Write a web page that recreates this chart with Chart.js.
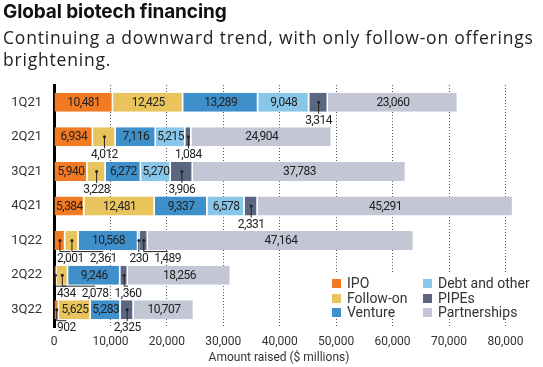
<!DOCTYPE html>
<html lang="en">
<head>
    <meta charset="UTF-8">
    <title>Global biotech financing</title>
    <script src="https://cdn.jsdelivr.net/npm/chart.js"></script>
    <style>
        body {
            margin: 0;
            background-color: #fff;
            font-family: Roboto, Arial, sans-serif;
        }
        #wrap {
            position: relative;
            width: 543px;
            height: 367px;
            overflow: hidden;
        }
        #title {
            position: absolute;
            left: 3px;
            top: 0px;
            font-family: Inter, Roboto, sans-serif;
            font-weight: 700;
            font-size: 19px;
            letter-spacing: -0.1px;
            color: #111;
        }
        #subtitle {
            position: absolute;
            left: 3px;
            top: 26px;
            font-family: "Open Sans", sans-serif;
            font-size: 17.5px;
            letter-spacing: 0.8px;
            line-height: 22px;
            color: #222;
            white-space: nowrap;
        }
        #chart {
            position: absolute;
            left: 0;
            top: 0;
        }
        #xtitle {
            position: absolute;
            left: 0;
            width: 558px;
            top: 350px;
            text-align: center;
            font-size: 12px;
            color: #333;
        }
        #legend {
            position: absolute;
            left: 328px;
            top: 274px;
            width: 210px;
            height: 45px;
            background: #fff;
            display: grid;
            grid-template-columns: 91px 110px;
            grid-auto-flow: column;
            grid-template-rows: repeat(3, 14.5px);
            padding-left: 4px;
            padding-top: 2px;
            box-sizing: border-box;
        }
        .item {
            font-size: 14px;
            line-height: 14.5px;
            color: #333;
            white-space: nowrap;
        }
        .item span {
            display: inline-block;
            width: 9px;
            height: 9px;
            margin-right: 6px;
        }
    </style>
</head>
<body>
<div id="wrap">
    <canvas id="chart" width="543" height="367"></canvas>
    <div id="title">Global biotech financing</div>
    <div id="subtitle">Continuing a downward trend, with only follow-on offerings<br>brightening.</div>
    <div id="legend"></div>
    <div id="xtitle">Amount raised ($ millions)</div>
</div>

<script>
    // quarters and amounts raised ($ millions) per financing type
    const quarters = ['1Q21', '2Q21', '3Q21', '4Q21', '1Q22', '2Q22', '3Q22'];
    const ipo = [10481, 6934, 5940, 5384, 2001, 434, 902];
    const followOn = [12425, 4012, 3228, 12481, 2361, 2078, 5625];
    const venture = [13289, 7116, 6272, 9337, 10568, 9246, 5283];
    const debt = [9048, 5215, 5270, 6578, 230, 0, 0];
    const pipes = [3314, 1084, 3906, 2331, 1489, 1360, 2325];
    const partnerships = [23060, 24904, 37783, 45291, 47164, 18256, 10707];

    const xTicks = [0, 10000, 20000, 30000, 40000, 50000, 60000, 70000, 80000];

    const series = [
        { label: 'IPO', data: ipo, color: '#f27a22' },
        { label: 'Follow-on', data: followOn, color: '#e9c35c' },
        { label: 'Venture', data: venture, color: '#3f8fcb' },
        { label: 'Debt and other', data: debt, color: '#88c7ea' },
        { label: 'PIPEs', data: pipes, color: '#5b6680' },
        { label: 'Partnerships', data: partnerships, color: '#c3c6d5' }
    ];

    // html legend, two columns
    const legend = document.getElementById('legend');
    series.forEach(s => {
        const div = document.createElement('div');
        div.className = 'item';
        div.innerHTML = '<span style="background:' + s.color + '"></span>' + s.label;
        legend.appendChild(div);
    });

    // value labels: inside the segment if it fits, otherwise below with a leader line
    const segLabels = {
        id: 'segLabels',
        afterDatasetsDraw(chart) {
            const ctx = chart.ctx;
            const area = chart.chartArea;
            ctx.save();
            ctx.font = '12px Roboto';
            ctx.letterSpacing = '-0.5px';
            ctx.fillStyle = '#222';
            ctx.strokeStyle = '#222';
            ctx.lineWidth = 1;
            ctx.textBaseline = 'middle';
            ctx.textAlign = 'center';
            for (let i = 0; i < quarters.length; i++) {
                let prevRight = area.left - 3;
                chart.data.datasets.forEach((ds, d) => {
                    const v = ds.data[i];
                    if (!v) return;
                    const bar = chart.getDatasetMeta(d).data[i];
                    const left = Math.min(bar.x, bar.base);
                    const right = Math.max(bar.x, bar.base);
                    const cx = (left + right) / 2;
                    const txt = v.toLocaleString('en-US');
                    const tw = ctx.measureText(txt).width;
                    if (tw + 2 <= right - left) {
                        ctx.fillText(txt, cx, bar.y + 0.5);
                        return;
                    }
                    const bottom = bar.y + bar.height / 2;
                    const lx = Math.max(cx, prevRight + 6 + tw / 2);
                    ctx.beginPath();
                    ctx.arc(cx, bar.y, 1.5, 0, Math.PI * 2);
                    ctx.fill();
                    ctx.beginPath();
                    ctx.moveTo(cx, bar.y);
                    if (lx - cx < 1) {
                        ctx.lineTo(cx, bottom + 2);
                    } else {
                        ctx.lineTo(cx, bottom + 1.5);
                        ctx.lineTo(lx, bottom + 1.5);
                    }
                    ctx.stroke();
                    ctx.fillText(txt, lx, bottom + 9);
                    prevRight = lx + tw / 2;
                });
            }
            ctx.restore();
        }
    };

    const ctx = document.getElementById('chart').getContext('2d');
    new Chart(ctx, {
        type: 'bar',
        data: {
            labels: quarters,
            datasets: series.map(s => ({
                label: s.label,
                data: s.data,
                backgroundColor: s.color,
                borderColor: '#fff',
                borderWidth: { top: 0, bottom: 0, left: 0, right: 1.5 },
                borderSkipped: false,
                categoryPercentage: 1,
                barPercentage: 0.55
            }))
        },
        options: {
            indexAxis: 'y',
            responsive: false,
            animation: false,
            layout: { padding: { top: 85, right: 15, left: 0, bottom: 0 } },
            plugins: {
                legend: { display: false },
                tooltip: { enabled: false }
            },
            scales: {
                x: {
                    stacked: true,
                    min: 0,
                    max: 84000,
                    afterFit(scale) { scale.height = 40; },
                    afterBuildTicks(scale) { scale.ticks = xTicks.map(v => ({ value: v })); },
                    ticks: {
                        padding: 8,
                        color: '#333',
                        font: { family: 'Roboto', size: 12 },
                        callback: v => v.toLocaleString('en-US')
                    },
                    grid: {
                        drawTicks: false,
                        color: c => (c.tick && c.tick.value === 0) ? 'rgba(0,0,0,0)' : '#555',
                        lineWidth: 1
                    },
                    border: { display: false, dash: [1, 2] }
                },
                y: {
                    stacked: true,
                    afterFit(scale) { scale.width = 54; },
                    ticks: {
                        padding: 12,
                        color: '#333',
                        font: { family: 'Roboto', size: 13 }
                    },
                    grid: { display: false, drawTicks: false },
                    border: { display: true, color: '#000', width: 3 }
                }
            }
        },
        plugins: [segLabels]
    });
</script>
</body>
</html>
